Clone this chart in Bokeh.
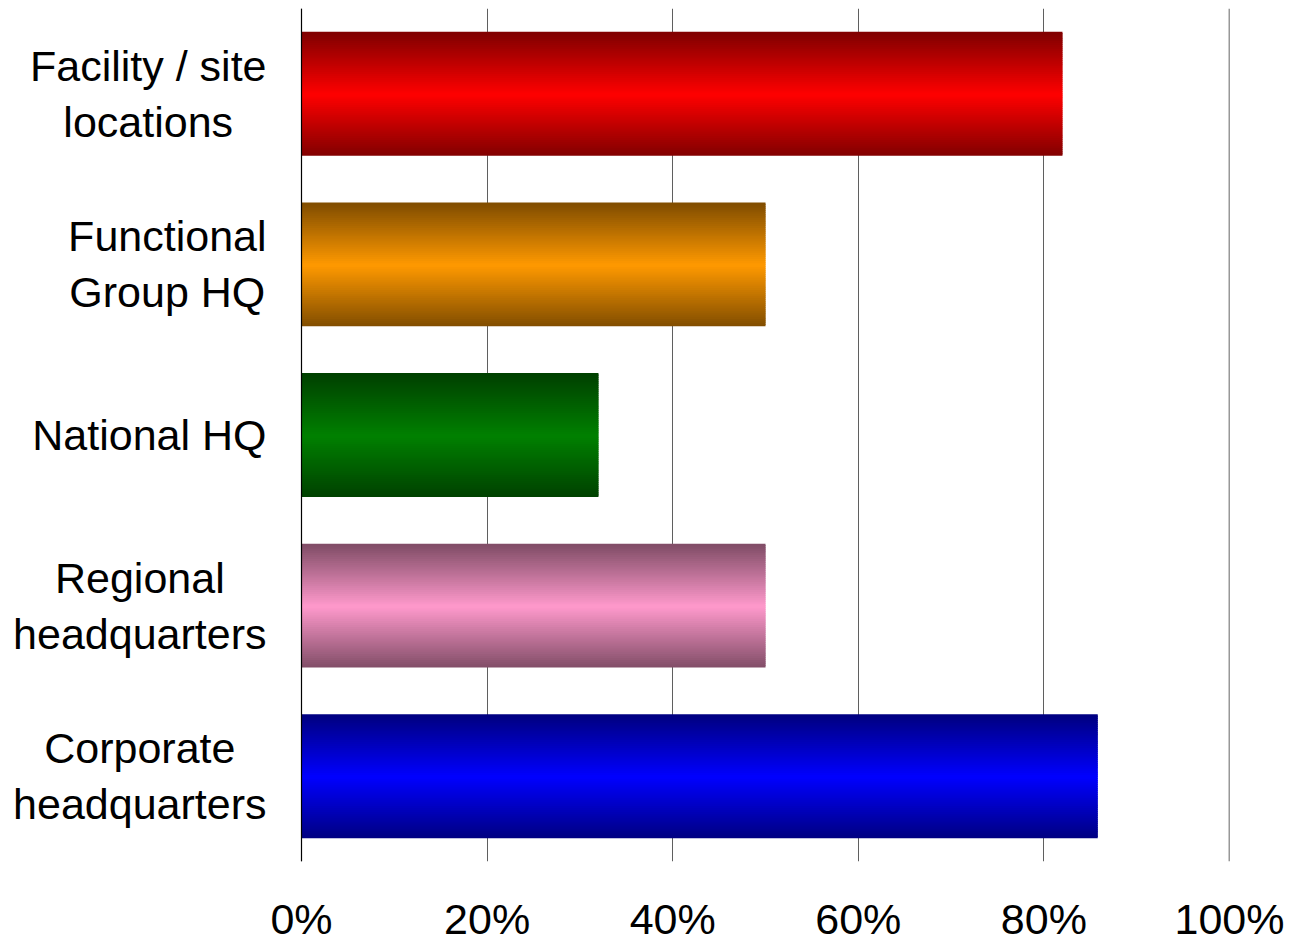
from bokeh.plotting import figure
from bokeh.models import ColumnDataSource, FixedTicker, Range1d, Span, PrintfTickFormatter
from bokeh.core.properties import value
from bokeh.embed import file_html
from bokeh.resources import INLINE

# ---- data (bottom to top) ----
categories = ["Corporate\nheadquarters", "Regional\nheadquarters", "National HQ",
              "Functional\nGroup HQ", "Facility / site\nlocations"]
values = [85.8, 50, 32, 50, 82]
bar_colors = ["#0000ff", "#ff99cc", "#008000", "#ff9900", "#ff0000"]
x_ticks = [0, 20, 40, 60, 80, 100]

# ---- layout / style ----
W, H = 1291, 945
LEFT_PX, PLOT_PX, RIGHT_PX = 301, 928, 62
FONT = "Liberation Sans"
FS = 43
LABEL_GAP_PX = 35
BAR_H = 0.726
N = 60

# Arial / Liberation Sans advance widths (per 1000 em) used to centre the label lines
ADV = {"F": 611, "a": 556, "c": 500, "i": 222, "l": 222, "t": 278, "y": 500, " ": 278,
       "/": 278, "s": 500, "e": 556, "o": 556, "n": 556, "u": 556, "G": 778, "r": 333,
       "p": 556, "H": 722, "Q": 778, "N": 722, "R": 722, "g": 556, "h": 556, "d": 556,
       "q": 556, "C": 722}

def text_px(s):
    return sum(ADV.get(ch, 556) for ch in s) * FS / 1000.0

px_per_unit = PLOT_PX / 100.0

def hex_to_rgb(h):
    h = h.lstrip("#")
    return [int(h[i:i + 2], 16) for i in (0, 2, 4)]

# gradient bars as thin slices
ys, rights, hs, cols = [], [], [], []
for i, (v, c) in enumerate(zip(values, bar_colors)):
    rgb = hex_to_rgb(c)
    sh = BAR_H / N
    for k in range(N):
        yc = i - BAR_H / 2 + (k + 0.5) * sh
        t = abs(yc - i) / (BAR_H / 2)
        f = 1.0 - 0.5 * t
        col = "#%02x%02x%02x" % tuple(int(round(ch * f)) for ch in rgb)
        lo = max(i - BAR_H / 2, yc - sh * 0.9)
        hi = min(i + BAR_H / 2, yc + sh * 0.9)
        ys.append((lo + hi) / 2)
        rights.append(v)
        hs.append(hi - lo)
        cols.append(col)

src = ColumnDataSource(dict(y=ys, right=rights, height=hs, color=cols))

# category labels: lines centred on each other, block right-aligned near the axis
lab_x, lab_y = [], []
for i, cat in enumerate(categories):
    wmax = max(text_px(line) for line in cat.split("\n"))
    lab_x.append(-(LABEL_GAP_PX + wmax / 2.0) / px_per_unit)
    lab_y.append(i)
lab_src = ColumnDataSource(dict(x=lab_x, y=lab_y, text=categories))

x_start = -LEFT_PX / px_per_unit
p = figure(width=W, height=H, output_backend="svg", toolbar_location=None,
           x_range=Range1d(x_start, 100), y_range=Range1d(-0.5, 4.5),
           y_axis_location=None,
           min_border_left=0, min_border_right=RIGHT_PX, min_border_top=8, min_border_bottom=83)
p.outline_line_color = None
p.background_fill_color = "white"
p.border_fill_color = "white"

# grid
p.xgrid.ticker = FixedTicker(ticks=x_ticks)
p.xgrid.grid_line_color = "#5f5f5f"
p.xgrid.grid_line_width = 1
p.ygrid.grid_line_color = None

p.hbar(y="y", left=0, right="right", height="height", fill_color="color",
       line_color=None, source=src)

p.add_layout(Span(location=x_ticks[0], dimension="height", line_color="black", line_width=1.2))
p.add_layout(Span(location=x_ticks[-1], dimension="height", line_color="#333333", line_width=1.5))

p.text(x="x", y="y", text="text", source=lab_src, text_font=value(FONT),
       text_font_size="%dpx" % FS, text_align="center", text_baseline="middle",
       text_color="black", text_line_height=1.17)

# x axis
p.xaxis.ticker = FixedTicker(ticks=x_ticks)
p.xaxis.formatter = PrintfTickFormatter(format="%d%%")
p.xaxis.axis_line_color = None
p.xaxis.major_tick_line_color = None
p.xaxis.minor_tick_line_color = None
p.xaxis.major_tick_out = 0
p.xaxis.major_label_standoff = 33
p.xaxis.major_label_text_font = FONT
p.xaxis.major_label_text_font_size = "%dpx" % FS
p.xaxis.major_label_text_color = "black"
p.xaxis.major_label_text_line_height = 1.0

open("out.html", "w").write(file_html(p, INLINE))
